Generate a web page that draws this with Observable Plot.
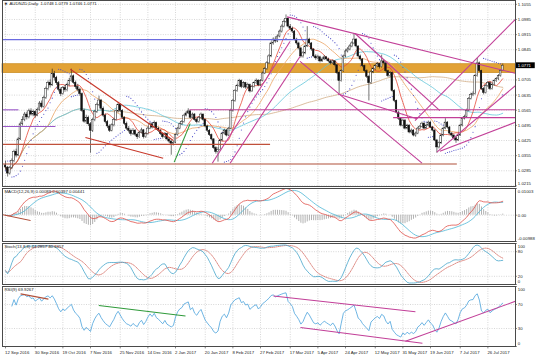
<!DOCTYPE html>
<html><head><meta charset="utf-8">
<script src="https://cdn.jsdelivr.net/npm/d3@7"></script>
<script src="https://cdn.jsdelivr.net/npm/@observablehq/plot@0.6"></script>
<style>
body{margin:0;background:#fff;}
#wrap{position:relative;width:536px;height:358px;overflow:hidden;background:#fff;}
#wrap svg{position:absolute;left:0;overflow:visible;}
</style></head><body><div id="wrap"></div>
<script>
// ---- price data (pips above 1.0000), daily bars from 12 Sep 2016 ----
const firstOpen = 310;
const closes = [
300,272,298,330,372,355,430,500,520,545,
532,560,545,556,540,566,596,580,622,664,
690,680,732,715,690,660,640,668,658,682,
700,722,692,672,660,640,562,512,530,500,
470,520,558,590,610,572,540,510,490,470,
495,520,560,590,562,530,502,480,470,455,
470,452,440,460,472,440,455,480,500,485,
505,480,470,455,440,455,430,420,410,415,
450,480,500,510,540,550,560,530,545,520,
510,530,545,520,490,470,450,430,390,372,
380,425,457,471,448,480,563,608,654,677,
700,672,690,670,682,652,672,690,702,680,
700,735,755,782,814,874,892,883,906,929,
952,974,988,952,942,929,892,874,851,814,
828,860,892,874,846,814,805,810,791,800,
810,800,791,782,791,773,737,700,746,814,
837,846,860,874,892,860,814,800,769,746,
720,690,740,755,769,778,764,791,782,746,
723,737,654,608,554,526,494,517,480,494,
462,471,448,457,480,489,503,480,494,508,
485,471,425,393,412,448,480,508,485,457,
448,435,425,448,494,526,535,563,618,636,
640,723,782,746,663,645,677,691,663,682,
700,709,723,748,771];
const highs = [
330,305,305,340,380,385,438,510,535,555,
556,570,572,566,562,575,605,608,630,672,
700,705,755,745,722,698,668,675,680,690,
712,755,728,700,685,668,645,570,542,538,
508,528,565,598,630,615,580,548,518,498,
502,528,566,600,595,568,535,510,490,478,
480,476,458,468,482,476,462,488,508,506,
515,510,486,475,460,462,458,436,425,422,
455,486,506,518,546,558,572,564,552,550,
526,536,552,548,524,496,476,455,434,396,
392,430,462,478,476,486,570,615,660,685,
708,705,697,694,690,686,678,696,710,706,
707,742,762,790,822,880,900,905,914,936,
960,982,1006,992,962,950,934,898,880,856,
836,866,952,898,878,850,822,820,815,808,
818,814,806,796,798,795,776,742,752,820,
845,855,868,882,920,896,864,820,804,774,
752,726,748,762,776,786,782,820,798,786,
750,744,740,660,612,560,530,524,522,500,
498,478,475,464,486,495,510,508,500,515,
512,490,475,430,418,454,486,526,512,490,
462,452,440,454,500,532,542,570,624,644,
650,730,805,788,750,670,684,698,695,690,
706,716,730,752,779];
const lows = [
285,256,265,290,322,345,350,425,492,512,
520,525,538,535,528,535,560,572,575,615,
655,668,675,700,680,650,628,635,648,650,
675,695,685,662,650,630,555,505,500,490,
366,462,512,550,582,565,532,502,480,462,
465,488,515,552,555,522,495,472,460,445,
448,444,430,435,455,432,435,450,475,478,
480,472,462,448,432,435,424,412,357,400,
410,445,475,494,505,534,545,524,525,514,
502,505,525,514,484,462,444,424,384,362,
325,375,420,450,442,444,476,556,602,648,
670,665,666,662,664,645,648,668,685,674,
676,696,730,750,776,808,866,875,878,900,
922,946,968,946,934,920,886,866,844,806,
806,822,855,866,838,808,796,798,784,786,
795,792,784,775,776,766,730,640,695,740,
808,830,840,854,868,854,808,792,762,740,
712,608,684,734,748,762,756,760,775,740,
716,716,648,600,548,518,488,488,474,474,
456,455,442,440,452,474,484,475,476,488,
480,465,420,366,386,406,442,475,478,450,
440,428,412,420,444,488,520,530,558,612,
628,635,718,740,656,636,640,670,656,658,
676,694,702,718,746];

const dateTicks = [0,14,27,40,54,67,80,94,107,120,134,147,160,174,187,200,214,227];
const dateLabels = ["12 Sep 2016","30 Sep 2016","19 Oct 2016","7 Nov 2016","25 Nov 2016","14 Dec 2016","2 Jan 2017","20 Jan 2017","8 Feb 2017","27 Feb 2017","17 Mar 2017","5 Apr 2017","24 Apr 2017","12 May 2017","31 May 2017","19 Jun 2017","7 Jul 2017","26 Jul 2017"];
const priceTicks = [1.1055,1.0985,1.0915,1.0845,1.0705,1.0635,1.0565,1.0495,1.0425,1.0355,1.0285,1.0215];
const lastPrice = 1.0771;
const bandZone = [[1.0737, 1.0778]];
const titleMain = "AUDNZD,Daily  1.0748 1.0779 1.0746 1.0771";
const titleMacd = "MACD(12,26,9) 0.00089 0.00397 0.00441";
const titleStoch = "Stoch(13,8,8) 44.2857 40.6357";
const titleRsi = "RSI(9) 69.9267";
const macdTicks = [[0.01003,"0.01003",3],[0,"0.00",0],[-0.00988,"-0.00988",-2.6]];
const stochTicks = [[100,"100",2.8],[80,"80",0],[20,"20",0],[0,"0",-2.6]];
const rsiTicks = [[100,"100",2.8],[70,"70",0],[30,"30",0],[0,"0",-2.4]];
// drawn objects: [bar1, pips1, bar2, pips2, colour]
const mainLines = [
 [-2,892,142,892,"#6b6be0"],
 [-2,407,124.5,407,"#c0503a"],
 [-2,316,212.4,316,"#b0503a"],
 [-2,567,6.1,567,"#9a58c8"],
 [-2,490,23.5,490,"#9a58c8"],
 [86.6,567,242,567,"#c23f98"],
 [182.4,531,242,531,"#c23f98"],
 [30.5,755,79,425,"#c8382a"],
 [37.6,439,74.2,343,"#c8382a"],
 [79.4,325,86.9,503,"#2f9a3a"],
 [97.3,320,133.9,883,"#c23f98"],
 [105.7,320,138.6,814,"#c23f98"],
 [132.5,997,242,731,"#c23f98"],
 [138.6,791,196,320,"#c23f98"],
 [164.5,920,204.4,563,"#c23f98"],
 [156.5,640,193.6,526,"#c23f98"],
 [192.7,517,242,1006,"#c23f98"],
 [203,371,242,696,"#c23f98"],
 [204.4,375,242,517,"#c23f98"]];
const macdLines = [[-2,0.0003,11.8,-0.002,"#b0503a"]];
const rsiLines = [
 [7.1,87.7,20.2,79,"#b0503a"],
 [43.9,68.4,84.7,50.9,"#2f9a3a"],
 [126.1,84.2,192.9,57.9,"#c23f98"],
 [138.8,31.6,196.2,5.3,"#c23f98"],
 [188.2,8.8,242,78,"#c23f98"]];

// ---- build bars ----
const toP = v => 1 + v / 10000;
const bars = closes.map((c, i) => {
  const o = i ? closes[i-1] : firstOpen;
  return {i, o: toP(o), c: toP(c), h: toP(Math.max(highs[i], o, c)), l: toP(Math.min(lows[i], o, c))};
});
const N = bars.length;
const C = bars.map(b => b.c), H = bars.map(b => b.h), L = bars.map(b => b.l);

// ---- indicators ----
function emaArr(a, n){ const k = 2/(n+1); let p = a[0]; return a.map((v,i) => (p = i ? v*k + p*(1-k) : v)); }
function smaArr(a, n){ return a.map((_, i) => d3.mean(a.slice(Math.max(0, i-n+1), i+1))); }
const e12 = emaArr(C, 12), e26 = emaArr(C, 26);
const macd = e12.map((v, i) => v - e26[i]);
const sig = smaArr(macd, 9);
const macdData = bars.map((b, i) => ({i, m: macd[i], s: sig[i], h: macd[i] - sig[i]}));

const kP = 13, dP = 8, slow = 8;
const lo = L.map((_, i) => d3.min(L.slice(Math.max(0, i-kP+1), i+1)));
const hi = H.map((_, i) => d3.max(H.slice(Math.max(0, i-kP+1), i+1)));
const num = C.map((c, i) => c - lo[i]), den = C.map((c, i) => hi[i] - lo[i]);
const K = C.map((_, i) => { const a = Math.max(0, i-slow+1); const d = d3.sum(den.slice(a, i+1)); return d ? 100*d3.sum(num.slice(a, i+1))/d : 50; });
const D = smaArr(K, dP);
const stochData = bars.map((b, i) => ({i, k: K[i], d: D[i]}));

const rP = 9; let ag = 0, al = 0; const rsi = [NaN];
for (let i = 1; i < N; i++) {
  const ch = C[i] - C[i-1], g = Math.max(ch, 0), l = Math.max(-ch, 0);
  if (i <= rP) { ag = (ag*(i-1) + g)/i; al = (al*(i-1) + l)/i; }
  else { ag = (ag*(rP-1) + g)/rP; al = (al*(rP-1) + l)/rP; }
  rsi.push(al === 0 ? 100 : 100 - 100/(1 + ag/al));
}
const rsiData = bars.map((b, i) => ({i, r: rsi[i]})).filter(d => d.i >= 3);

const sar = [];
{ let up = true, af = 0.02, ep = H[0], s = L[0]; sar.push(s);
  for (let i = 1; i < N; i++) {
    s = s + af*(ep - s);
    if (up) {
      s = Math.min(s, L[i-1], L[Math.max(0, i-2)]);
      if (L[i] < s) { up = false; s = ep; ep = L[i]; af = 0.02; }
      else if (H[i] > ep) { ep = H[i]; af = Math.min(af + 0.02, 0.2); }
    } else {
      s = Math.max(s, H[i-1], H[Math.max(0, i-2)]);
      if (H[i] > s) { up = true; s = ep; ep = H[i]; af = 0.02; }
      else if (L[i] < ep) { ep = L[i]; af = Math.min(af + 0.02, 0.2); }
    }
    sar.push(s);
  } }
const sarData = bars.map((b, i) => ({i, s: sar[i]}));

// ---- layout helpers ----
const FONT = "Liberation Sans, Arial, sans-serif";
const FS = 4.3;
const XD = [-1.412, 240];
const grid = {stroke: "#bcbcbc", strokeWidth: 0.6, strokeDasharray: "1,1.4"};
function panel(top, height, mt, mb, ydom, marks){
  const svg = Plot.plot({
    width: 536, height, marginLeft: 2, marginRight: 21, marginTop: mt, marginBottom: mb,
    x: {domain: XD, axis: null}, y: {domain: ydom, axis: null},
    style: {fontFamily: FONT, fontSize: FS + "px", background: "transparent", overflow: "visible"},
    marks
  });
  svg.style.top = top + "px";
  document.getElementById("wrap").appendChild(svg);
}
const vgrid = () => Plot.ruleX(dateTicks, {x: d => d, ...grid});
const axisLabels = (ticks) => [
  Plot.ruleY(ticks, {y: d => d[0], x1: 240, x2: 240.9, stroke: "#333", strokeWidth: 0.6}),
  ...ticks.map(t => Plot.text([t], {y: d => d[0], x: 241.1, dy: t[2], text: d => d[1], textAnchor: "start", fontSize: FS, fill: "#222"}))
];
const title = (t) => Plot.text([t], {frameAnchor: "top-left", dx: 2, dy: 1.5, lineAnchor: "top", text: d => d, fontSize: FS, fill: "#222"});

// ---- main price panel ----
const pYD = [1.02122, 1.10728];
const priceLabels = priceTicks.map(p => [p, p.toFixed(4), p === 1.0215 ? -2.4 : 0]);
panel(0, 187, 0, 1, pYD, [
  Plot.ruleY(priceTicks, {y: d => d, ...grid}),
  vgrid(),
  Plot.rect(bandZone, {x1: XD[0], x2: XD[1], y1: d => d[0], y2: d => d[1], fill: "#e2a236", stroke: "#c88a1c", strokeWidth: 0.7}),
  Plot.lineY(bars, Plot.windowY({k: 100, anchor: "end", reduce: "mean"}, {x: "i", y: "c", stroke: "#d2ad86", strokeWidth: 0.8})),
  Plot.lineY(bars, Plot.windowY({k: 50, anchor: "end", reduce: "mean"}, {x: "i", y: "c", stroke: "#62c6da", strokeWidth: 0.8})),
  Plot.lineY(bars, Plot.windowY({k: 21, anchor: "end", reduce: "mean"}, {x: "i", y: "c", stroke: "#eba464", strokeWidth: 0.8})),
  Plot.lineY(bars, Plot.windowY({k: 8, anchor: "end", reduce: "mean"}, {x: "i", y: "c", stroke: "#e64a3a", strokeWidth: 0.8})),
  Plot.dot(sarData, {x: "i", y: "s", r: 0.55, fill: "#4b4bc8", stroke: null}),
  Plot.ruleX(bars, {x: "i", y1: "l", y2: "h", stroke: "#1a1a1a", strokeWidth: 0.6}),
  Plot.rect(bars, {filter: d => d.c >= d.o, x1: d => d.i - 0.38, x2: d => d.i + 0.38, y1: "o", y2: "c", fill: "#ffffff", stroke: "#1a1a1a", strokeWidth: 0.45}),
  Plot.rect(bars, {filter: d => d.c < d.o, x1: d => d.i - 0.38, x2: d => d.i + 0.38, y1: "o", y2: "c", fill: "#111111", stroke: "#111111", strokeWidth: 0.45}),
  Plot.link(mainLines, {x1: d => d[0], y1: d => toP(d[1]), x2: d => d[2], y2: d => toP(d[3]), stroke: d => d[4], strokeWidth: 1.1, clip: true}),
  ...axisLabels(priceLabels),
  Plot.rect([lastPrice], {x1: 240.2, x2: 249.3, y1: d => d - 0.00135, y2: d => d + 0.00135, fill: "#000"}),
  Plot.text([lastPrice], {x: 241.1, y: d => d, text: d => d.toFixed(4), textAnchor: "start", fontSize: FS, fill: "#fff"}),
  Plot.text(["\u25BC"], {frameAnchor: "top-left", dx: 2, dy: 2, lineAnchor: "top", text: d => d, fontSize: 3.6, fill: "#333", fontFamily: "DejaVu Sans"}),
  Plot.text([titleMain], {frameAnchor: "top-left", dx: 7, dy: 1.8, lineAnchor: "top", text: d => d, fontSize: FS, fill: "#222"}),
  Plot.frame({stroke: "#4a4a4a", strokeWidth: 1})
]);

// ---- MACD panel ----
panel(187, 55, 1, 1, [-0.00988, 0.01003], [
  Plot.ruleY([0], {y: d => d, ...grid}),
  vgrid(),
  Plot.ruleX(macdData, {x: "i", y1: 0, y2: "h", stroke: "#a9a9a9", strokeWidth: 0.9, clip: true}),
  Plot.lineY(macdData, {x: "i", y: "s", stroke: "#4cb6d6", strokeWidth: 0.8, clip: true}),
  Plot.lineY(macdData, {x: "i", y: "m", stroke: "#e0504a", strokeWidth: 0.8, clip: true}),
  Plot.link(macdLines, {x1: d => d[0], y1: d => d[1], x2: d => d[2], y2: d => d[3], stroke: d => d[4], strokeWidth: 1, clip: true}),
  ...axisLabels(macdTicks),
  title(titleMacd),
  Plot.frame({stroke: "#4a4a4a", strokeWidth: 1})
]);

// ---- Stochastic panel ----
panel(242, 43, 1, 1, [0, 100], [
  Plot.ruleY([20, 80], {y: d => d, ...grid}),
  vgrid(),
  Plot.lineY(stochData, {x: "i", y: "d", stroke: "#d05a50", strokeWidth: 0.7, strokeDasharray: "1,1", clip: true}),
  Plot.lineY(stochData, {x: "i", y: "k", stroke: "#46a6cc", strokeWidth: 0.8, clip: true}),
  ...axisLabels(stochTicks),
  title(titleStoch),
  Plot.frame({stroke: "#4a4a4a", strokeWidth: 1})
]);

// ---- RSI panel + date axis ----
panel(285, 73, 1, 12, [0, 100], [
  Plot.ruleY([30, 70], {y: d => d, ...grid}),
  vgrid(),
  Plot.lineY(rsiData, {x: "i", y: "r", stroke: "#4aa2dc", strokeWidth: 0.8, clip: true}),
  Plot.link(rsiLines, {x1: d => d[0], y1: d => d[1], x2: d => d[2], y2: d => d[3], stroke: d => d[4], strokeWidth: 1.1, clip: true}),
  ...axisLabels(rsiTicks),
  title(titleRsi),
  Plot.ruleX(dateTicks, {x: d => d, y1: 0, y2: -4, stroke: "#333", strokeWidth: 0.6}),
  Plot.text(dateTicks, {x: d => d, y: 0, dy: 6.5, dx: -0.5, text: (d, k) => dateLabels[k], textAnchor: "start", fontSize: FS, fill: "#222"}),
  Plot.frame({stroke: "#4a4a4a", strokeWidth: 1})
]);
</script></body></html>
